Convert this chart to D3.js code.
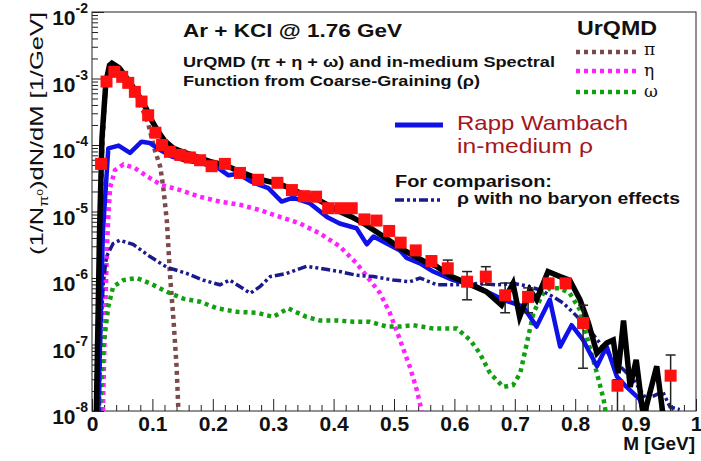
<!DOCTYPE html>
<html><head><meta charset="utf-8">
<script src="https://cdn.jsdelivr.net/npm/d3@7"></script>
<style>body{margin:0;background:#fff}svg{display:block}</style>
</head><body><svg id="c" width="701" height="461"></svg>
<script>
// ---------- tick labels ----------
const xMajorTicks = [0,0.1,0.2,0.3,0.4,0.5,0.6,0.7,0.8,0.9,1];
const xTickLabels = ["0","0.1","0.2","0.3","0.4","0.5","0.6","0.7","0.8","0.9","1"];
const yDecades = [1e-8,1e-7,1e-6,1e-5,1e-4,1e-3,1e-2];
const yExponents = ["-8","-7","-6","-5","-4","-3","-2"];

// ---------- data points (red squares) ----------
const dataM = [0.015,0.024,0.037,0.050,0.060,0.071,0.082,0.093,0.105,0.116,0.129,0.146,0.162,0.179,0.198,0.220,0.245,0.275,0.307,0.331,0.351,0.371,0.391,0.411,0.430,0.451,0.471,0.492,0.511,0.536,0.562,0.589,0.621,0.652,0.684,0.722,0.756,0.784,0.813,0.870,0.958];
const dataY = [5.2e-5,9.0e-4,1.26e-3,1.06e-3,8.6e-4,6.3e-4,4.5e-4,2.8e-4,1.53e-4,1.0e-4,7.9e-5,7.1e-5,6.5e-5,5.9e-5,4.8e-5,5.2e-5,3.8e-5,3.0e-5,2.7e-5,2.1e-5,1.7e-5,1.67e-5,1.12e-5,1.12e-5,1.12e-5,7.6e-6,7.3e-6,5.1e-6,3.4e-6,2.6e-6,1.8e-6,1.4e-6,8.8e-7,1.05e-6,5.5e-7,5.2e-7,8.3e-7,8.3e-7,2.1e-7,2.4e-8,3.4e-8];
const errLo = [null,null,null,null,null,null,null,null,null,null,null,null,null,null,null,null,null,null,null,null,null,null,null,null,null,null,null,null,2.9e-6,2.3e-6,1.6e-6,1.15e-6,4.7e-7,7.9e-7,3.0e-7,3.0e-7,7.2e-7,7.2e-7,4.4e-8,1e-9,1e-9];
const errHi = [null,null,null,null,null,null,null,null,null,null,null,null,null,null,null,null,null,null,null,null,null,null,null,null,null,null,null,null,3.9e-6,2.9e-6,2.1e-6,1.86e-6,1.25e-6,1.48e-6,8.4e-7,7.1e-7,9.5e-7,9.5e-7,3.9e-7,2.95e-8,6.95e-8];

// ---------- total (black) ----------
const totalM = [0.007,0.010,0.0125,0.0165,0.023,0.029,0.033,0.045,0.060,0.075,0.090,0.100,0.110,0.120,0.135,0.150,0.165,0.180,0.200,0.220,0.250,0.280,0.310,0.330,0.350,0.370,0.390,0.410,0.430,0.450,0.470,0.490,0.510,0.530,0.550,0.570,0.595,0.622,0.653,0.678,0.697,0.708,0.725,0.736,0.755,0.775,0.791,0.808,0.822,0.836,0.852,0.863,0.871,0.880,0.891,0.901,0.913,0.935,0.946];
const totalY = [8e-9,2.5e-7,5.0e-6,1.26e-4,8.9e-4,1.58e-3,1.7e-3,1.45e-3,9.5e-4,6.0e-4,3.5e-4,2.24e-4,1.58e-4,1.17e-4,8.9e-5,7.9e-5,7.1e-5,6.3e-5,5.5e-5,5.0e-5,3.8e-5,3.0e-5,2.6e-5,2.2e-5,1.8e-5,1.58e-5,1.26e-5,1.0e-5,8.3e-6,6.6e-6,5.0e-6,3.8e-6,2.8e-6,2.24e-6,1.78e-6,1.5e-6,1.05e-6,8.3e-7,6.2e-7,3.9e-7,8.3e-7,2.6e-7,6.6e-7,4.7e-7,1.25e-6,1.05e-6,9.3e-7,4.7e-7,2.1e-7,7.4e-8,1.05e-7,1.17e-7,3.7e-8,2.3e-7,2.3e-8,5.9e-8,8e-9,4.7e-8,8e-9];

// ---------- Rapp-Wambach in-medium rho (blue) ----------
const rwM = [0.010,0.018,0.027,0.044,0.063,0.082,0.096,0.113,0.132,0.154,0.182,0.209,0.226,0.242,0.264,0.292,0.314,0.333,0.361,0.389,0.410,0.438,0.455,0.466,0.488,0.510,0.521,0.543,0.565,0.598,0.631,0.659,0.681,0.714,0.736,0.758,0.775,0.794,0.813,0.836,0.852,0.869,0.885,0.907,0.915];
const rwY = [8e-9,4.8e-6,8.9e-5,9.8e-5,7.6e-5,1.12e-4,1.07e-4,8.4e-5,6.7e-5,5.9e-5,5.3e-5,4.5e-5,3.5e-5,3.7e-5,2.8e-5,2.24e-5,1.41e-5,1.62e-5,1.32e-5,8.3e-6,6.6e-6,5.6e-6,3.2e-6,4.2e-6,3.3e-6,2.6e-6,2.0e-6,1.66e-6,1.25e-6,9.3e-7,7.9e-7,5.9e-7,4.7e-7,3.7e-7,1.86e-7,4.7e-7,9.3e-8,1.95e-7,1.17e-7,4.7e-8,9.3e-8,3.3e-8,2.3e-8,1.5e-8,8e-9];

// ---------- rho with no baryon effects (navy dash-dot) ----------
const noBarM = [0.012,0.0144,0.0187,0.024,0.035,0.046,0.068,0.096,0.124,0.157,0.184,0.212,0.228,0.262,0.278,0.295,0.322,0.355,0.377,0.410,0.438,0.466,0.499,0.526,0.543,0.571,0.598,0.642,0.670,0.697,0.720,0.742,0.764,0.780,0.797,0.819,0.841,0.863,0.896,0.918,0.945,0.957,0.973];
const noBarY = [8e-9,1.5e-7,8.3e-7,2.1e-6,3.3e-6,3.7e-6,3.2e-6,2.1e-6,1.45e-6,1.17e-6,9.3e-7,7.9e-7,9.3e-7,5.9e-7,7.4e-7,1.05e-6,1.17e-6,1.5e-6,1.4e-6,1.25e-6,1.1e-6,1.05e-6,9.3e-7,8.8e-7,1.0e-6,7.9e-7,7.9e-7,8.3e-7,7.9e-7,8.3e-7,7.6e-7,6.6e-7,5.2e-7,4.2e-7,3.0e-7,1.86e-7,1.05e-7,5.9e-8,3.0e-8,1.5e-8,1.95e-8,1.15e-8,1.05e-8];

// ---------- UrQMD omega (green) ----------
const omegaM = [0.0132,0.0187,0.027,0.035,0.052,0.074,0.096,0.124,0.151,0.179,0.207,0.240,0.273,0.300,0.325,0.355,0.377,0.405,0.433,0.460,0.488,0.510,0.532,0.565,0.604,0.626,0.642,0.659,0.681,0.697,0.709,0.720,0.731,0.747,0.758,0.775,0.791,0.808,0.822,0.836,0.847,0.852];
const omegaY = [1.0e-8,9.3e-8,3.7e-7,7.4e-7,9.3e-7,1.0e-6,8.3e-7,6.2e-7,4.9e-7,4.4e-7,3.5e-7,3.1e-7,3.0e-7,2.6e-7,3.5e-7,2.6e-7,2.3e-7,2.3e-7,2.2e-7,2.2e-7,1.86e-7,1.86e-7,1.95e-7,1.74e-7,1.74e-7,1.17e-7,7.4e-8,3.7e-8,2.3e-8,2.45e-8,3.7e-8,1.05e-7,3.0e-7,5.9e-7,7.0e-7,7.0e-7,5.9e-7,3.3e-7,1.05e-7,3.7e-8,1.5e-8,8e-9];

// ---------- UrQMD eta (magenta) ----------
const etaM = [0.018,0.022,0.025,0.027,0.030,0.038,0.052,0.071,0.093,0.115,0.146,0.179,0.212,0.245,0.278,0.311,0.344,0.377,0.410,0.438,0.460,0.477,0.493,0.510,0.526,0.5375,0.546,0.550];
const etaY = [1e-8,3.2e-7,3.2e-6,8.3e-6,2.3e-5,4.2e-5,5.1e-5,4.5e-5,3.3e-5,2.5e-5,2.1e-5,1.66e-5,1.41e-5,1.26e-5,1.05e-5,8.3e-6,6.6e-6,4.7e-6,3.0e-6,1.66e-6,9.3e-7,5.9e-7,3.0e-7,1.17e-7,4.7e-8,2.1e-8,1e-8,6e-9];

// ---------- UrQMD pi0 (brown) ----------
const pionM = [0.008,0.012,0.017,0.023,0.030,0.045,0.060,0.075,0.093,0.104,0.113,0.118,0.124,0.129,0.135,0.140,0.143,0.145];
const pionY = [8e-9,1.6e-6,1.0e-4,7.9e-4,1.5e-3,1.35e-3,8.9e-4,5.4e-4,2.1e-4,8.4e-5,4.7e-5,2.3e-5,7.1e-6,1.17e-6,2.3e-7,4.7e-8,1.05e-8,6e-9];

// ================= drawing =================
const L = 92, R = 696, T = 12, B = 411;
const svg = d3.select("#c");
const x = d3.scaleLinear().domain([0,1]).range([L,R]);
const y = d3.scaleLog().domain([1e-8,1e-2]).range([B,T]);
const FONT = "'Liberation Sans', Arial, Helvetica, sans-serif";

svg.append("defs").append("clipPath").attr("id","clip")
  .append("rect").attr("x",L).attr("y",T).attr("width",R-L).attr("height",B-T);

// axes (ticks inward)
const xMinor = d3.range(0,1.0001,0.02).filter(v => Math.abs(v*10 - Math.round(v*10)) > 1e-6);
svg.append("g").attr("transform",`translate(0,${B})`)
  .call(d3.axisBottom(x).tickValues(xMinor).tickSize(-6).tickSizeOuter(0).tickFormat(""))
  .call(g => g.select(".domain").remove());
const xAx = svg.append("g").attr("transform",`translate(0,${B})`)
  .call(d3.axisBottom(x).tickValues(xMajorTicks).tickSize(-12).tickSizeOuter(0)
        .tickPadding(5).tickFormat((d,i) => xTickLabels[i]))
  .call(g => g.select(".domain").remove());
xAx.selectAll("text").attr("font-family",FONT).attr("font-size",21).attr("font-weight","bold").attr("fill","#111");

const yMinor = [];
yDecades.slice(0,-1).forEach(d => { for (let k=2;k<=9;k++) yMinor.push(d*k); });
svg.append("g").attr("transform",`translate(${L},0)`)
  .call(d3.axisLeft(y).tickValues(yMinor).tickSize(-6).tickSizeOuter(0).tickFormat(""))
  .call(g => g.select(".domain").remove());
svg.append("g").attr("transform",`translate(${L},0)`)
  .call(d3.axisLeft(y).tickValues(yDecades).tickSize(-12).tickSizeOuter(0).tickFormat(""))
  .call(g => g.select(".domain").remove());
svg.selectAll(".tick line").attr("stroke","#222").attr("stroke-width",1);

// y labels 10^n
yDecades.forEach((d,i) => {
  const t = svg.append("text").attr("x",88).attr("y",y(d)+13)
    .attr("text-anchor","end").attr("font-family",FONT).attr("font-weight","bold")
    .attr("font-size",21).attr("fill","#111");
  t.append("tspan").text("10");
  t.append("tspan").attr("font-size",14).attr("dy",-12).text(yExponents[i]);
});

// frame
svg.append("rect").attr("x",L).attr("y",T).attr("width",R-L).attr("height",B-T)
  .attr("fill","none").attr("stroke","#222").attr("stroke-width",1);

// curves
const line = (ms, ys) => d3.line().x((d,i)=>x(ms[i])).y((d,i)=>y(ys[i]))(ms);
const plot = svg.append("g").attr("clip-path","url(#clip)");
plot.append("path").attr("d",line(pionM,pionY)).attr("fill","none")
  .attr("stroke","#7b4a4a").attr("stroke-width",4.5).attr("stroke-dasharray","4,4");
plot.append("path").attr("d",line(etaM,etaY)).attr("fill","none")
  .attr("stroke","#ff22ff").attr("stroke-width",4.5).attr("stroke-dasharray","4,4");
plot.append("path").attr("d",line(omegaM,omegaY)).attr("fill","none")
  .attr("stroke","#12a012").attr("stroke-width",4.5).attr("stroke-dasharray","4,4");
plot.append("path").attr("d",line(noBarM,noBarY)).attr("fill","none")
  .attr("stroke","#1a1a8c").attr("stroke-width",3.5).attr("stroke-dasharray","9,3,3,3,3,3");
plot.append("path").attr("d",line(rwM,rwY)).attr("fill","none")
  .attr("stroke","#1010e8").attr("stroke-width",4.5).attr("stroke-linejoin","round");
plot.append("path").attr("d",line(totalM,totalY)).attr("fill","none")
  .attr("stroke","#000").attr("stroke-width",5.5).attr("stroke-linejoin","miter");

// error bars
const eg = plot.append("g").attr("stroke","#222").attr("stroke-width",1.5);
dataM.forEach((m,i) => {
  if (errLo[i] == null) return;
  const cx = x(m), y1 = y(errLo[i]), y2 = y(errHi[i]);
  eg.append("line").attr("x1",cx).attr("x2",cx).attr("y1",y1).attr("y2",y2);
  eg.append("line").attr("x1",cx-5).attr("x2",cx+5).attr("y1",y2).attr("y2",y2);
  eg.append("line").attr("x1",cx-5).attr("x2",cx+5).attr("y1",y1).attr("y2",y1);
});
// markers
svg.append("g").selectAll("rect").data(dataM).join("rect")
  .attr("x",(d)=>x(d)-6).attr("y",(d,i)=>y(dataY[i])-6)
  .attr("width",12).attr("height",12).attr("fill","#ff1010");

// ---------- texts ----------
function txt(s, xx, yy, size, opts={}) {
  const t = svg.append("text").attr("x",xx).attr("y",yy).attr("font-family",opts.family||FONT)
    .attr("font-size",size).attr("font-weight",opts.bold?"bold":"normal")
    .attr("fill",opts.fill||"#111");
  if (opts.len) t.attr("textLength",opts.len).attr("lengthAdjust","spacingAndGlyphs");
  if (opts.anchor) t.attr("text-anchor",opts.anchor);
  t.text(s);
  return t;
}
txt("Ar + KCl @ 1.76 GeV", 183, 37, 19, {bold:true, len:219});
txt("UrQMD (π + η + ω) and in-medium Spectral", 183, 67, 14, {bold:true, len:372});
txt("Function from Coarse-Graining (ρ)", 183, 86, 14, {bold:true, len:297});
txt("UrQMD", 577, 35, 20, {bold:true, len:80});

// UrQMD legend
const legY = [52,71,92], legC = ["#7b4a4a","#ff22ff","#12a012"], legS = ["π","η","ω"];
const symBase = [55,76,97];
legY.forEach((yy,i) => {
  svg.append("line").attr("x1",576).attr("x2",636).attr("y1",yy).attr("y2",yy)
    .attr("stroke",legC[i]).attr("stroke-width",4.5).attr("stroke-dasharray","4,4");
  txt(legS[i], 644, symBase[i], 17, {family:"'DejaVu Serif','Liberation Serif',serif"});
});

svg.append("line").attr("x1",395).attr("x2",443).attr("y1",125).attr("y2",125)
  .attr("stroke","#1010e8").attr("stroke-width",5);
txt("Rapp Wambach", 457, 130, 21, {fill:"#a3161c", len:171});
txt("in-medium ρ", 457, 153, 21, {fill:"#a3161c", len:136});
txt("For comparison:", 395, 187, 16, {bold:true, len:157});
svg.append("line").attr("x1",395).attr("x2",443).attr("y1",200).attr("y2",200)
  .attr("stroke","#1a1a8c").attr("stroke-width",3.5).attr("stroke-dasharray","9,3,3,3,3,3");
txt("ρ with no baryon effects", 457, 204, 16, {bold:true, len:223});

// axis titles
txt("M [GeV]", 695, 450, 19, {bold:true, anchor:"end"});
const yt = svg.append("text").attr("transform","translate(43,12) rotate(-90)")
  .attr("text-anchor","end").attr("font-family",FONT).attr("font-size",19).attr("fill","#111")
  .attr("textLength",243).attr("lengthAdjust","spacingAndGlyphs");
yt.append("tspan").text("(1/N");
yt.append("tspan").attr("font-size",12).attr("dy",5).text("π");
yt.append("tspan").attr("font-size",9).attr("dy",-5).text("0");
yt.append("tspan").attr("dy",0).text(")dN/dM [1/GeV]");
</script></body></html>
